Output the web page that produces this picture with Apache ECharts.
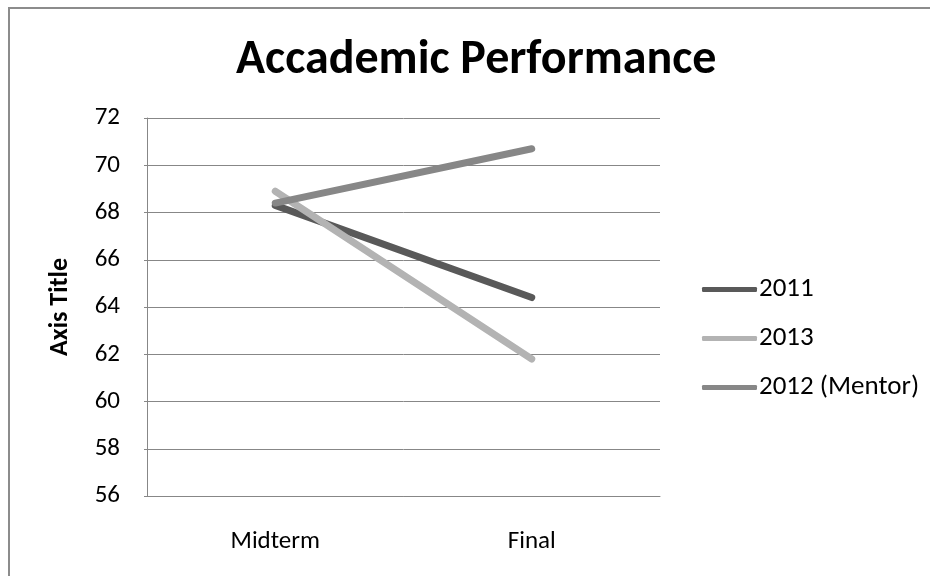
<!DOCTYPE html>
<html>
<head>
<meta charset="utf-8">
<style>
  html, body { margin: 0; padding: 0; background: #fff; }
  #chart { width: 930px; height: 576px; }
</style>
<script src="https://cdn.jsdelivr.net/npm/echarts@6/dist/echarts.min.js"></script>
</head>
<body>
<div id="chart"></div>
<script>
// Exam periods along the x axis
const categories = ['Midterm', 'Final'];

// Average scores per cohort
const scores2011 = [68.3, 64.4];
const scores2013 = [68.9, 61.8];
const scores2012Mentor = [68.4, 70.7];

const seriesNames = ['2011', '2013', '2012 (Mentor)'];
const seriesColors = ['#595959', '#b3b3b3', '#878787'];

// Value axis ticks
const yMin = 56, yMax = 72, yStep = 2;

const font = "Carlito, 'Open Sans', Calibri, sans-serif";

const chart = echarts.init(document.getElementById('chart'), null, { renderer: 'canvas' });

function lineSeries(name, data, color) {
  return {
    name: name,
    type: 'line',
    data: data,
    symbol: 'none',
    showSymbol: false,
    animation: false,
    lineStyle: { color: color, width: 7, cap: 'round', join: 'round' },
    itemStyle: { color: color }
  };
}

chart.setOption({
  backgroundColor: '#ffffff',
  animation: false,
  // chart-area frame, open on the right and bottom
  graphic: [{
    type: 'rect',
    shape: { x: 9, y: 8, width: 940, height: 600 },
    style: { fill: 'none', stroke: '#8c8c8c', lineWidth: 2 },
    silent: true
  }],
  title: {
    text: 'Accademic Performance',
    left: 231,
    top: 32,
    textStyle: { fontFamily: font, fontSize: 48, fontWeight: 'bold', color: '#000' }
  },
  grid: { left: 147, right: 270, top: 118, bottom: 80, containLabel: false },
  legend: {
    orient: 'vertical',
    left: 697,
    top: 271,
    itemWidth: 55,
    itemHeight: 5,
    itemGap: 22,
    icon: 'roundRect',
    data: seriesNames,
    textStyle: { fontFamily: font, fontSize: 27, color: '#000', lineHeight: 26, padding: [0, 0, 0, -3] }
  },
  xAxis: {
    type: 'category',
    data: categories,
    boundaryGap: true,
    axisLine: { lineStyle: { color: '#878787', width: 1 } },
    axisTick: { show: false },
    axisLabel: { fontFamily: font, fontSize: 25, color: '#000', margin: 33 }
  },
  yAxis: {
    type: 'value',
    min: yMin,
    max: yMax,
    interval: yStep,
    name: 'Axis Title',
    nameLocation: 'middle',
    nameGap: 74,
    nameRotate: 90,
    nameTextStyle: { fontFamily: font, fontSize: 26, fontWeight: 'bold', color: '#000' },
    axisLine: { show: true, lineStyle: { color: '#878787', width: 1 } },
    axisTick: { show: true, inside: false, length: 3, lineStyle: { color: '#878787' } },
    axisLabel: { fontFamily: font, fontSize: 25, color: '#000', margin: 27 },
    splitLine: { show: true, lineStyle: { color: '#878787', width: 1 } }
  },
  series: [
    lineSeries(seriesNames[0], scores2011, seriesColors[0]),
    lineSeries(seriesNames[1], scores2013, seriesColors[1]),
    lineSeries(seriesNames[2], scores2012Mentor, seriesColors[2])
  ]
});
</script>
</body>
</html>
